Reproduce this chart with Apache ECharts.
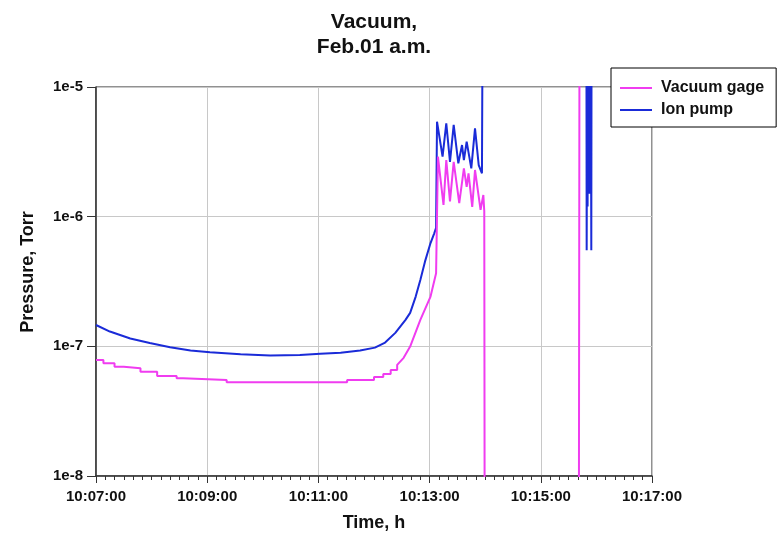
<!DOCTYPE html>
<html>
<head>
<meta charset="utf-8">
<script src="https://cdn.jsdelivr.net/npm/echarts@6/dist/echarts.min.js"></script>
<style>html,body{margin:0;padding:0;background:#fff}#c{width:779px;height:543px}</style>
</head>
<body>
<div id="c"></div>
<script>
// Time in seconds after 10:07:00
var gageTime = [0, 8, 8, 20, 20, 30, 30, 48, 48, 66, 66, 87, 87, 94, 94, 141, 141, 271, 271, 300, 300, 310, 310, 318, 318, 325, 325, 332, 339, 350, 361, 367, 369, 375, 378, 382, 386, 392, 397, 400, 402, 406, 409, 415, 418, 419, 419.5, 521, 522];
var gageP = [7.85e-8, 7.85e-8, 7.41e-8, 7.41e-8, 6.97e-8, 6.97e-8, 6.78e-8, 6.78e-8, 6.38e-8, 6.38e-8, 5.91e-8, 5.91e-8, 5.68e-8, 5.68e-8, 5.51e-8, 5.51e-8, 5.28e-8, 5.28e-8, 5.51e-8, 5.51e-8, 5.8e-8, 5.8e-8, 6.12e-8, 6.12e-8, 6.58e-8, 6.58e-8, 7.2e-8, 8.15e-8, 9.95e-8, 1.6e-7, 2.42e-7, 3.66e-7, 2.9e-6, 1.23e-6, 2.73e-6, 1.31e-6, 2.65e-6, 1.27e-6, 2.36e-6, 1.7e-6, 2.16e-6, 1.19e-6, 2.29e-6, 1.13e-6, 1.47e-6, 1.1e-6, 1e-9, 1e-9, 1e-3];
var pumpTime = [0, 15, 37, 58, 80, 102, 123, 156, 188, 220, 242, 264, 285, 301, 312, 323, 334, 339, 345, 350, 355, 361, 365, 367, 368, 374, 378, 382, 386, 391, 395, 397, 400, 405, 409, 413, 416.5, 418, 529, 529.5, 530, 530.5, 531, 531.5, 532, 532.5, 533, 533.5, 534, 534.5, 535];
var pumpP = [1.46e-7, 1.30e-7, 1.15e-7, 1.06e-7, 9.84e-8, 9.27e-8, 9.0e-8, 8.69e-8, 8.48e-8, 8.58e-8, 8.78e-8, 8.94e-8, 9.27e-8, 9.77e-8, 1.07e-7, 1.27e-7, 1.6e-7, 1.81e-7, 2.42e-7, 3.25e-7, 4.5e-7, 6.26e-7, 7.44e-7, 8.2e-7, 5.4e-6, 2.9e-6, 5.25e-6, 2.65e-6, 5.1e-6, 2.58e-6, 3.57e-6, 2.73e-6, 3.79e-6, 2.36e-6, 4.8e-6, 2.5e-6, 2.16e-6, 1e-3, 1e-3, 5.5e-7, 2e-5, 1.2e-6, 2e-5, 2e-6, 2e-5, 1.5e-6, 2e-5, 2.5e-6, 2e-5, 5.5e-7, 1e-3];
var seriesNames = ['Vacuum gage', 'Ion pump'];
var startSec = 10 * 3600 + 7 * 60;

function zip(a, b) { return a.map(function (t, i) { return [t, b[i]]; }); }
function pad(n) { return (n < 10 ? '0' : '') + n; }

var FONT = 'Liberation Sans, Arial, sans-serif';
var chart = echarts.init(document.getElementById('c'), null, { renderer: 'canvas' });
chart.setOption({
  animation: false,
  backgroundColor: '#fff',
  title: {
    text: 'Vacuum,\nFeb.01 a.m.',
    left: 369, top: 5, textAlign: 'center',
    textStyle: { fontFamily: FONT, fontSize: 21, fontWeight: 'bold', color: '#111', lineHeight: 25 }
  },
  graphic: [{
    type: 'text', x: 28, y: 272, rotation: Math.PI / 2, z: 10,
    style: { text: 'Pressure, Torr', fontFamily: FONT, fontSize: 18, fontWeight: 'bold', fill: '#111',
      textAlign: 'center', textVerticalAlign: 'middle', align: 'center', verticalAlign: 'middle' }
  }],
  legend: {
    data: seriesNames,
    orient: 'vertical',
    left: 611, top: 68,
    padding: [11, 12, 8, 9],
    itemGap: 4,
    itemWidth: 32, itemHeight: 2,
    icon: 'rect',
    borderColor: '#000', borderWidth: 1, backgroundColor: '#fff',
    textStyle: { fontFamily: FONT, fontSize: 16, lineHeight: 18, fontWeight: 'bold', color: '#111', padding: [0, 0, 0, 4] }
  },
  grid: { left: 96, right: 127, top: 87, bottom: 67, show: true, borderColor: '#222', borderWidth: 1, backgroundColor: 'transparent' },
  xAxis: {
    type: 'value', min: 0, max: 600, interval: 120,
    name: 'Time, h', nameLocation: 'middle', nameGap: 38,
    nameTextStyle: { fontFamily: FONT, fontSize: 18, fontWeight: 'bold', color: '#111' },
    axisLine: { lineStyle: { color: '#333', width: 1.5 } },
    axisTick: { length: 7, lineStyle: { color: '#333' } },
    minorTick: { show: true, splitNumber: 12, length: 4, lineStyle: { color: '#333' } },
    splitLine: { show: true, lineStyle: { color: '#c8c8c8', width: 1 } },
    axisLabel: {
      margin: 13, fontFamily: FONT, fontSize: 15, fontWeight: 'bold', color: '#111',
      formatter: function (v) {
        var s = startSec + v;
        return Math.floor(s / 3600) + ':' + pad(Math.floor(s % 3600 / 60)) + ':' + pad(s % 60);
      }
    }
  },
  yAxis: {
    type: 'log', logBase: 10, min: 1e-8, max: 1e-5,
    axisLine: { show: true, lineStyle: { color: '#333', width: 1.5 } },
    axisTick: { show: true, length: 9, lineStyle: { color: '#333' } },
    splitLine: { show: true, lineStyle: { color: '#c8c8c8', width: 1 } },
    axisLabel: {
      margin: 13, fontFamily: FONT, fontSize: 15, fontWeight: 'bold', color: '#111',
      formatter: function (v) { return '1e' + Math.round(Math.log10(v)); }
    }
  },
  series: [
    { name: seriesNames[0], type: 'line', data: zip(gageTime, gageP), showSymbol: false, symbol: 'none', clip: true,
      lineStyle: { color: '#f03cf0', width: 2 }, itemStyle: { color: '#f03cf0' }, z: 3 },
    { name: seriesNames[1], type: 'line', data: zip(pumpTime, pumpP), showSymbol: false, symbol: 'none', clip: true,
      lineStyle: { color: '#1a2bd8', width: 2 }, itemStyle: { color: '#1a2bd8' }, z: 2 }
  ]
});
</script>
</body>
</html>
